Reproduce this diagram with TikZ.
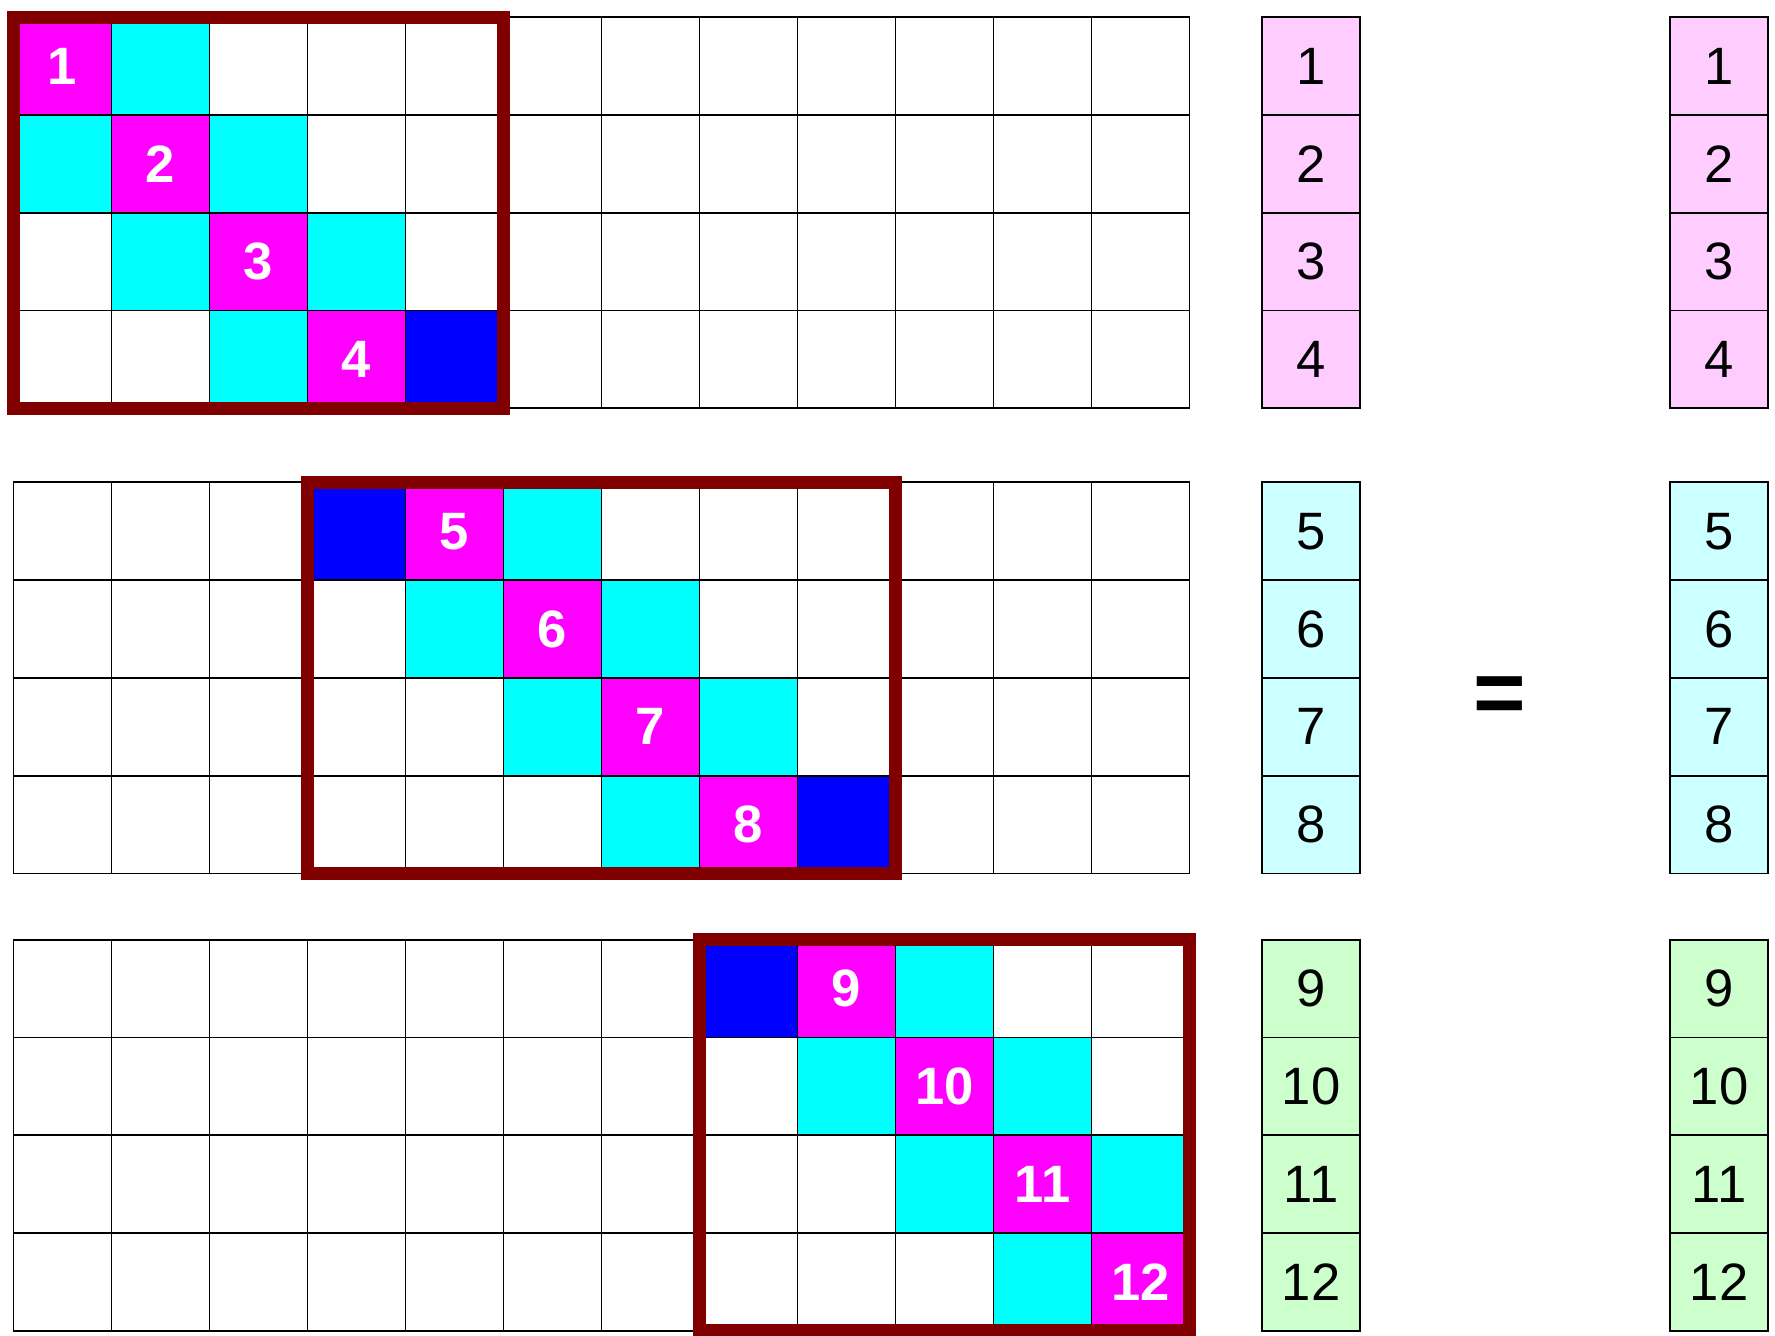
\documentclass[tikz,border=0pt]{standalone}
\usepackage{fontspec}
\setmainfont{Liberation Sans}
\definecolor{diagcolor}{RGB}{255,0,255}
\definecolor{nbcolor}{RGB}{0,255,255}
\definecolor{extcolor}{RGB}{0,0,255}
\definecolor{framecolor}{RGB}{128,0,0}
\definecolor{vecpink}{RGB}{255,204,255}
\definecolor{veccyan}{RGB}{204,255,255}
\definecolor{vecgreen}{RGB}{204,255,204}
\tikzset{
  cell/.style={draw=black, line width=0.9pt, inner sep=0pt, outer sep=0pt,
    minimum width=49pt, minimum height=48.9pt},
  tone0/.style={fill=white},
  tone1/.style={fill=nbcolor},
  tone2/.style={fill=extcolor},
  tone3/.style={fill=diagcolor, text=white, font=\fontsize{26.3}{30}\selectfont\bfseries},
  vecbox/.style={cell, font=\fontsize{26.3}{30}\selectfont},
  vec0/.style={fill=vecpink},
  vec1/.style={fill=veccyan},
  vec2/.style={fill=vecgreen},
  blockframe/.style={draw=framecolor, line width=6.5pt},
}

\begin{document}
\begin{tikzpicture}[x=0.5pt, y=-0.5pt]
    \useasboundingbox (0,0) rectangle (1775,1335);
    % matrix cells
    \foreach \i in {1,...,12}
      \foreach \j in {1,...,12} {
        \pgfmathtruncatemacro\blk{int((\i-1)/4)}
        \pgfmathsetmacro\ytop{{17,482.3,939.7}[\blk]}
        \pgfmathtruncatemacro\dist{abs(\i-\j)}
        \pgfmathtruncatemacro\tone{ifthenelse(\dist==0,3,ifthenelse(\dist==1,2-(int((\j-1)/4)==\blk),0))}
        \node[cell, tone\tone] (c-\i-\j) at ({13.5+(\j-0.5)*98}, {\ytop+(\i-4*\blk-0.5)*97.8})
          {\ifnum\dist=0 \i\fi};
      }
    % vectors
    \foreach \i in {1,...,12} {
      \pgfmathtruncatemacro\blk{int((\i-1)/4)}
      \node[vecbox, vec\blk] (x-\i) at (1311,0 |- c-\i-1) {\i};
      \node[vecbox, vec\blk] (b-\i) at (1719,0 |- c-\i-1) {\i};
    }
    \node[font=\fontsize{45}{45}\selectfont\bfseries] (eq) at (1500,700) {=};
    % local blocks
    \draw[blockframe] (c-1-1.north west) rectangle (c-4-5.south east);
    \draw[blockframe] (c-5-4.north west) rectangle (c-8-9.south east);
    \draw[blockframe] (c-9-8.north west) rectangle (c-12-12.south east);
\end{tikzpicture}
\end{document}
